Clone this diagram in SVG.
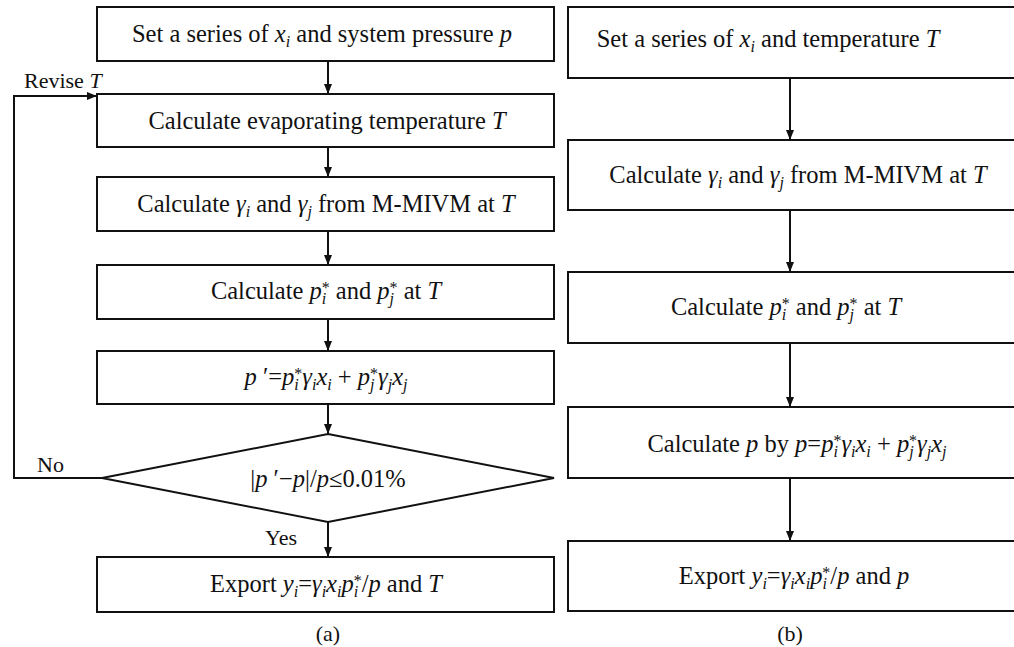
<svg xmlns="http://www.w3.org/2000/svg" width="1014" height="647" viewBox="0 0 1014 647">
<style>
text{font-family:"Liberation Serif","Times New Roman",serif;fill:#111}
.t{font-size:24.5px;text-anchor:middle}
.l{font-size:22px}
.c{font-size:22px;text-anchor:middle}
.i{font-style:italic}
.s{font-size:16px;font-style:italic}
.u{font-size:16px}
.box{fill:#fff;stroke:#111;stroke-width:2}
.ln{fill:none;stroke:#111;stroke-width:2}
</style>
<defs>
<marker id="ah" markerWidth="10" markerHeight="8" refX="10" refY="4" orient="auto" markerUnits="userSpaceOnUse">
<path d="M0,0 L10,4 L0,8 Z" fill="#111"/>
</marker>
</defs>
<rect width="1014" height="647" fill="#fff"/>

<g id="connectors">
<line class="ln" x1="328" y1="61" x2="328" y2="94" marker-end="url(#ah)"/>
<line class="ln" x1="328" y1="147" x2="328" y2="177" marker-end="url(#ah)"/>
<line class="ln" x1="328" y1="231" x2="328" y2="265" marker-end="url(#ah)"/>
<line class="ln" x1="328" y1="319" x2="328" y2="351" marker-end="url(#ah)"/>
<line class="ln" x1="328" y1="404" x2="328" y2="434" marker-end="url(#ah)"/>
<line class="ln" x1="328" y1="522" x2="328" y2="557" marker-end="url(#ah)"/>
<polyline class="ln" points="102,478 14,478 14,96 97,96" marker-end="url(#ah)"/>
<line class="ln" x1="790" y1="78" x2="790" y2="140" marker-end="url(#ah)"/>
<line class="ln" x1="790" y1="210" x2="790" y2="272" marker-end="url(#ah)"/>
<line class="ln" x1="790" y1="343" x2="790" y2="407" marker-end="url(#ah)"/>
<line class="ln" x1="790" y1="478" x2="790" y2="541" marker-end="url(#ah)"/>
</g>

<g id="a1">
<rect class="box" x="97" y="7" width="457" height="54"/>
<text class="t" x="322" y="42">Set a series of <tspan class="i">x</tspan><tspan class="s" dy="5">i</tspan><tspan dy="-5"> and system pressure </tspan><tspan class="i">p</tspan></text>
</g>
<g id="a2">
<rect class="box" x="97" y="94" width="457" height="53"/>
<text class="t" x="327" y="129">Calculate evaporating temperature <tspan class="i">T</tspan></text>
</g>
<g id="a3">
<rect class="box" x="97" y="177" width="457" height="54"/>
<text class="t" x="326" y="212">Calculate <tspan class="i">γ</tspan><tspan class="s" dy="5">i</tspan><tspan dy="-5"> and </tspan><tspan class="i">γ</tspan><tspan class="s" dy="5">j</tspan><tspan dy="-5"> from M-MIVM at </tspan><tspan class="i">T</tspan></text>
</g>
<g id="a4">
<rect class="box" x="97" y="265" width="457" height="54"/>
<text class="t" x="326" y="299">Calculate <tspan class="i">p</tspan><tspan class="s" dy="5">i</tspan><tspan class="u" dx="-4.5" dy="-11">*</tspan><tspan dy="6"> and </tspan><tspan class="i">p</tspan><tspan class="s" dy="5">j</tspan><tspan class="u" dx="-4.5" dy="-11">*</tspan><tspan dy="6"> at </tspan><tspan class="i">T</tspan></text>
</g>
<g id="a5">
<rect class="box" x="97" y="351" width="457" height="53"/>
<text class="t" x="326" y="385"><tspan class="i">p</tspan> ′=<tspan class="i">p</tspan><tspan class="s" dy="5">i</tspan><tspan class="u" dx="-4.5" dy="-11">*</tspan><tspan class="i" dy="6">γ</tspan><tspan class="s" dy="5">i</tspan><tspan class="i" dy="-5">x</tspan><tspan class="s" dy="5">i</tspan><tspan dy="-5"> + </tspan><tspan class="i">p</tspan><tspan class="s" dy="5">j</tspan><tspan class="u" dx="-4.5" dy="-11">*</tspan><tspan class="i" dy="6">γ</tspan><tspan class="s" dy="5">j</tspan><tspan class="i" dy="-5">x</tspan><tspan class="s" dy="5">j</tspan></text>
</g>
<g id="a6">
<polygon class="box" points="328,434 554,478 328,522 102,478"/>
<text class="t" x="328" y="487">|<tspan class="i">p</tspan> ′−<tspan class="i">p</tspan>|/<tspan class="i">p</tspan>≤0.01%</text>
</g>
<g id="a7">
<rect class="box" x="97" y="557" width="457" height="55"/>
<text class="t" x="326" y="592">Export <tspan class="i">y</tspan><tspan class="s" dy="5">i</tspan><tspan dy="-5">=</tspan><tspan class="i">γ</tspan><tspan class="s" dy="5">i</tspan><tspan class="i" dy="-5">x</tspan><tspan class="s" dy="5">i</tspan><tspan class="i" dy="-5">p</tspan><tspan class="s" dy="5">i</tspan><tspan class="u" dx="-4.5" dy="-11">*</tspan><tspan dy="6">/</tspan><tspan class="i">p</tspan> and <tspan class="i">T</tspan></text>
</g>

<g id="b1">
<rect class="box" x="568" y="7" width="450" height="71"/>
<text class="t" x="768" y="47">Set a series of <tspan class="i">x</tspan><tspan class="s" dy="5">i</tspan><tspan dy="-5"> and temperature </tspan><tspan class="i">T</tspan></text>
</g>
<g id="b2">
<rect class="box" x="568" y="140" width="450" height="70"/>
<text class="t" x="798" y="183">Calculate <tspan class="i">γ</tspan><tspan class="s" dy="5">i</tspan><tspan dy="-5"> and </tspan><tspan class="i">γ</tspan><tspan class="s" dy="5">j</tspan><tspan dy="-5"> from M-MIVM at </tspan><tspan class="i">T</tspan></text>
</g>
<g id="b3">
<rect class="box" x="568" y="272" width="450" height="71"/>
<text class="t" x="786" y="315">Calculate <tspan class="i">p</tspan><tspan class="s" dy="5">i</tspan><tspan class="u" dx="-4.5" dy="-11">*</tspan><tspan dy="6"> and </tspan><tspan class="i">p</tspan><tspan class="s" dy="5">j</tspan><tspan class="u" dx="-4.5" dy="-11">*</tspan><tspan dy="6"> at </tspan><tspan class="i">T</tspan></text>
</g>
<g id="b4">
<rect class="box" x="568" y="407" width="450" height="71"/>
<text class="t" x="797" y="452">Calculate <tspan class="i">p</tspan> by <tspan class="i">p</tspan>=<tspan class="i">p</tspan><tspan class="s" dy="5">i</tspan><tspan class="u" dx="-4.5" dy="-11">*</tspan><tspan class="i" dy="6">γ</tspan><tspan class="s" dy="5">i</tspan><tspan class="i" dy="-5">x</tspan><tspan class="s" dy="5">i</tspan><tspan dy="-5"> + </tspan><tspan class="i">p</tspan><tspan class="s" dy="5">j</tspan><tspan class="u" dx="-4.5" dy="-11">*</tspan><tspan class="i" dy="6">γ</tspan><tspan class="s" dy="5">j</tspan><tspan class="i" dy="-5">x</tspan><tspan class="s" dy="5">j</tspan></text>
</g>
<g id="b5">
<rect class="box" x="568" y="541" width="450" height="70"/>
<text class="t" x="794" y="584">Export <tspan class="i">y</tspan><tspan class="s" dy="5">i</tspan><tspan dy="-5">=</tspan><tspan class="i">γ</tspan><tspan class="s" dy="5">i</tspan><tspan class="i" dy="-5">x</tspan><tspan class="s" dy="5">i</tspan><tspan class="i" dy="-5">p</tspan><tspan class="s" dy="5">i</tspan><tspan class="u" dx="-4.5" dy="-11">*</tspan><tspan dy="6">/</tspan><tspan class="i">p</tspan> and <tspan class="i">p</tspan></text>
</g>

<g id="labels">
<text class="l" x="24" y="88">Revise <tspan class="i">T</tspan></text>
<text class="l" x="37" y="472">No</text>
<text class="l" x="265" y="545">Yes</text>
<text class="c" x="328" y="641">(a)</text>
<text class="c" x="790" y="641">(b)</text>
</g>
</svg>
